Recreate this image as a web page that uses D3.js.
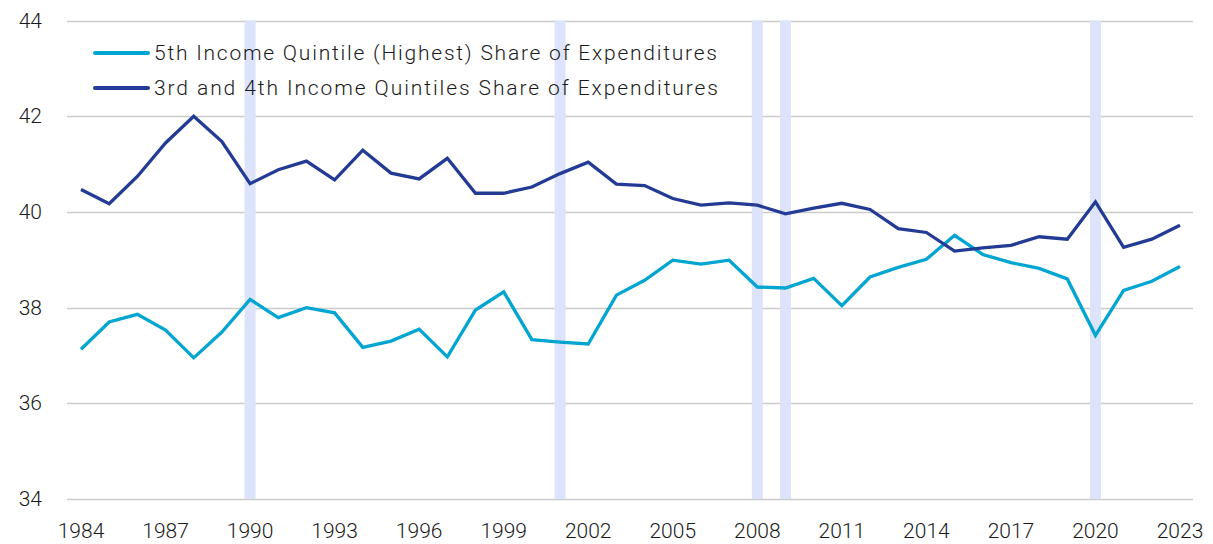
<!DOCTYPE html>
<html>
<head>
<meta charset="utf-8">
<script src="https://cdn.jsdelivr.net/npm/d3@7"></script>
<style>
  html, body { margin: 0; padding: 0; background: #fff; }
  text { font-family: Roboto, "Noto Sans", sans-serif; font-weight: 300; fill: #1a1a1a; }
</style>
</head>
<body>
<div id="chart"></div>
<script>
// data
var years = d3.range(1984, 2024);
var topQuintile = [37.13, 37.70, 37.86, 37.53, 36.95, 37.49, 38.17, 37.79, 38.00, 37.89,
                   37.17, 37.30, 37.55, 36.97, 37.95, 38.33, 37.33, 37.28, 37.24, 38.26,
                   38.57, 38.99, 38.91, 38.99, 38.43, 38.41, 38.61, 38.04, 38.64, 38.84,
                   39.01, 39.51, 39.11, 38.94, 38.82, 38.60, 37.42, 38.36, 38.55, 38.86];
var midQuintiles = [40.47, 40.17, 40.74, 41.44, 42.00, 41.47, 40.59, 40.88, 41.06, 40.67,
                    41.29, 40.81, 40.69, 41.12, 40.39, 40.39, 40.52, 40.80, 41.04, 40.58,
                    40.55, 40.28, 40.14, 40.19, 40.14, 39.96, 40.08, 40.18, 40.05, 39.65,
                    39.57, 39.18, 39.25, 39.30, 39.48, 39.43, 40.21, 39.26, 39.43, 39.72];
var recessionYears = [1990, 2001, 2008, 2009, 2020];
var yTicks = [34, 36, 38, 40, 42, 44];
var xTicks = [1984, 1987, 1990, 1993, 1996, 1999, 2002, 2005, 2008, 2011, 2014, 2017, 2020, 2023];
var seriesNames = ["5th Income Quintile (Highest) Share of Expenditures",
                   "3rd and 4th Income Quintiles Share of Expenditures"];
var seriesColors = ["#00a5d1", "#233b94"];

var width = 1213, height = 544;

var svg = d3.select("#chart")
  .append("svg")
  .attr("width", width)
  .attr("height", height);

var x = d3.scaleLinear().domain([1984, 2023]).range([81, 1180]);
var y = d3.scaleLinear().domain([34, 44]).range([499, 20.5]);

// gridlines
svg.append("g")
  .selectAll("line")
  .data(yTicks)
  .enter()
  .append("line")
  .attr("x1", 67)
  .attr("x2", 1193)
  .attr("y1", function(d) { return Math.round(y(d)) + 0.5; })
  .attr("y2", function(d) { return Math.round(y(d)) + 0.5; })
  .attr("stroke", "#cccccc")
  .attr("stroke-width", 1.5);

// recession bands
svg.append("g")
  .selectAll("rect")
  .data(recessionYears)
  .enter()
  .append("rect")
  .attr("x", function(d) { return x(d) - 5.5; })
  .attr("width", 11)
  .attr("y", y(44))
  .attr("height", y(34) - y(44))
  .attr("fill", "#dce3fa");

// y labels
svg.append("g")
  .selectAll("text")
  .data(yTicks)
  .enter()
  .append("text")
  .attr("x", 42)
  .attr("y", function(d) { return y(d) + 7; })
  .attr("text-anchor", "end")
  .attr("font-size", 21)
  .text(function(d) { return d; });

// x labels
svg.append("g")
  .selectAll("text")
  .data(xTicks)
  .enter()
  .append("text")
  .attr("x", function(d) { return x(d); })
  .attr("y", 538)
  .attr("text-anchor", "middle")
  .attr("font-size", 21)
  .text(function(d) { return d; });

var line = d3.line()
  .x(function(d, i) { return x(years[i]); })
  .y(function(d) { return y(d); });

[topQuintile, midQuintiles].forEach(function(s, k) {
  svg.append("path")
    .datum(s)
    .attr("d", line)
    .attr("fill", "none")
    .attr("stroke", seriesColors[k])
    .attr("stroke-width", 3.3)
    .attr("stroke-linejoin", "miter");
});

// legend
var legend = svg.append("g")
  .selectAll("g")
  .data(seriesNames)
  .enter()
  .append("g")
  .attr("transform", function(d, i) { return "translate(0," + (53 + i * 35) + ")"; });

legend.append("line")
  .attr("x1", 95)
  .attr("x2", 148)
  .attr("stroke", function(d, i) { return seriesColors[i]; })
  .attr("stroke-width", 4)
  .attr("stroke-linecap", "round");

legend.append("text")
  .attr("x", 154)
  .attr("y", 7)
  .attr("font-size", 21)
  .attr("textLength", function(d, i) { return i == 0 ? 563 : 564; })
  .text(function(d) { return d; });
</script>
</body>
</html>
